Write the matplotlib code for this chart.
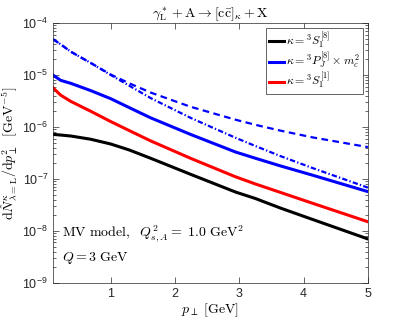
import math
import matplotlib
matplotlib.use("Agg")
import matplotlib.pyplot as plt
from matplotlib.ticker import FuncFormatter, LogLocator, NullFormatter

plt.rcParams["font.family"] = ["Liberation Sans", "DejaVu Sans"]
plt.rcParams["mathtext.fontset"] = "cm"

# values
pt = [0.1, 0.22, 0.38, 0.69, 1.0, 1.29, 1.62, 2.24, 2.94, 3.25, 3.64, 4.14, 5.0]
s8 = [7.2e-7, 7.0e-7, 6.7e-7, 5.8e-7, 4.7e-7, 3.6e-7, 2.5e-7, 1.23e-7,
      5.6e-8, 4.2e-8, 2.75e-8, 1.66e-8, 7.0e-9]
pj8 = [1.0e-5, 7.9e-6, 6.9e-6, 5.0e-6, 3.5e-6, 2.35e-6, 1.5e-6, 7.2e-7,
       3.3e-7, 2.5e-7, 1.78e-7, 1.18e-7, 5.7e-8]
s1 = [5.7e-6, 4.1e-6, 3.1e-6, 2.0e-6, 1.27e-6, 8.5e-7, 5.4e-7, 2.5e-7,
      1.1e-7, 8.0e-8, 5.5e-8, 3.4e-8, 1.5e-8]
pj8_dash = [4.9e-5, 3.9e-5, 2.8e-5, 1.7e-5, 1.02e-5, 6.9e-6, 4.6e-6, 2.45e-6,
            1.38e-6, 1.1e-6, 8.5e-7, 6.3e-7, 4.1e-7]
pj8_dashdot = [4.9e-5, 3.9e-5, 2.8e-5, 1.7e-5, 1.0e-5, 6.2e-6, 3.6e-6, 1.5e-6,
               6.2e-7, 4.3e-7, 2.75e-7, 1.62e-7, 6.8e-8]
yticks = [1e-9, 1e-8, 1e-7, 1e-6, 1e-5, 1e-4]

fig = plt.figure(figsize=(4.07, 3.2), dpi=100)
ax = fig.add_axes([0.130, 0.116, 0.774, 0.812])

ax.plot(pt, s8, color="black", lw=2.2, label=r"$\kappa = {}^3S_1^{[8]}$")
ax.plot(pt, pj8, color="blue", lw=2.2, label=r"$\kappa = {}^3P_J^{[8]} \times m_c^2$")
ax.plot(pt, s1, color="red", lw=2.2, label=r"$\kappa = {}^3S_1^{[1]}$")
ax.plot(pt, pj8_dash, color="blue", lw=1.6, ls=(0, (3, 2)))
ax.plot(pt, pj8_dashdot, color="blue", lw=1.6, ls=(0, (2.4, 1, 0.6, 1)))

ax.set_yscale("log")
ax.set_xlim(0.1, 5)
ax.set_ylim(1e-9, 1e-4)
ax.set_xticks([1, 2, 3, 4, 5])
ax.set_yticks(yticks)
ax.yaxis.set_minor_locator(LogLocator(base=10, subs=range(2, 10), numticks=20))
ax.yaxis.set_minor_formatter(NullFormatter())
ax.yaxis.set_major_formatter(
    FuncFormatter(lambda v, p: r"$\mathregular{10^{%d}}$" % round(math.log10(v)))
)
ax.tick_params(which="both", direction="in", top=True, right=True,
               colors="#262626", labelsize=9, width=0.5)
ax.tick_params(which="major", length=4)
ax.tick_params(which="minor", length=2)
for s in ax.spines.values():
    s.set_color("#262626")
    s.set_linewidth(0.5)

ax.set_title(r"$\gamma^*_{\rm L} + {\rm A} \rightarrow [{\rm c\bar{c}}]_\kappa + {\rm X}$",
             fontsize=10, pad=4)
ax.set_xlabel(r"$p_\perp\ [{\rm GeV}]$", fontsize=10, labelpad=1)
ax.set_ylabel(r"${\rm d}\hat{N}^{\kappa}_{\lambda={\rm L}}/{\rm d}p^2_\perp\ \ [{\rm GeV}^{-5}]$",
              fontsize=10, labelpad=2)

ax.text(0.03, 0.19, r"${\rm MV\ model,}\ \ Q^2_{s,A} =\ {\rm 1.0\ GeV}^2$",
        transform=ax.transAxes, fontsize=10, va="center")
ax.text(0.03, 0.095, r"$Q = 3\ {\rm GeV}$", transform=ax.transAxes,
        fontsize=10, va="center")

leg = ax.legend(loc="upper right", fontsize=8.5, handlelength=1.3,
                handletextpad=0.2, borderpad=0.2, labelspacing=0.0,
                borderaxespad=0.45, fancybox=False, framealpha=1)
leg.get_frame().set_edgecolor("#262626")
leg.get_frame().set_linewidth(0.5)

fig.savefig("out.png", dpi=100)
